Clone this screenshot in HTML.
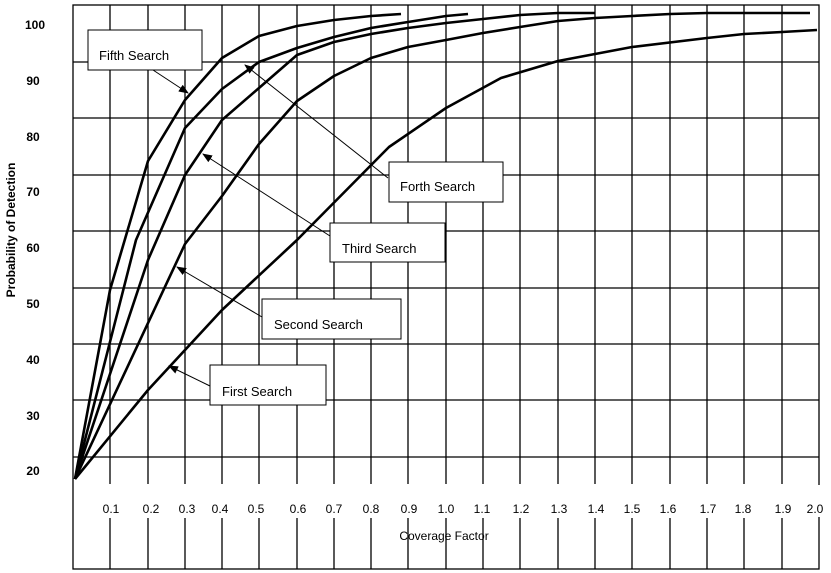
<!DOCTYPE html>
<html><head><style>
body{margin:0;background:#fff;}
svg{display:block;font-family:"Liberation Sans",sans-serif;}
</style></head><body>
<svg width="831" height="573" xmlns="http://www.w3.org/2000/svg">
<defs><marker id="a" markerWidth="10" markerHeight="8" refX="9" refY="4" orient="auto" markerUnits="userSpaceOnUse"><path d="M0,0 L10,4 L0,8 z" fill="#000"/></marker></defs>
<g stroke="#000" stroke-width="1.3" fill="none">
<rect x="73" y="5" width="746" height="564"/>
<line x1="73" y1="62" x2="819" y2="62"/><line x1="73" y1="118" x2="819" y2="118"/>
<line x1="73" y1="175" x2="819" y2="175"/><line x1="73" y1="231" x2="819" y2="231"/>
<line x1="73" y1="288" x2="819" y2="288"/><line x1="73" y1="344" x2="819" y2="344"/>
<line x1="73" y1="400" x2="819" y2="400"/><line x1="73" y1="457" x2="819" y2="457"/>
</g>
<g stroke="#000" stroke-width="1.3" id="v">
<path d="M110 5V484M148 5V484M185 5V484M222 5V484M259 5V484M297 5V484M334 5V484M371 5V484M408 5V484M446 5V484M483 5V484M520 5V484M558 5V484M595 5V484M632 5V484M670 5V484M707 5V484M744 5V484M782 5V484
M110 518V569M148 518V569M185 518V569M222 518V569M259 518V569M297 518V569M334 518V569M371 518V569M408 518V569M446 518V569M483 518V569M520 518V569M558 518V569M595 518V569M632 518V569M670 518V569M707 518V569M744 518V569M782 518V569"/>
</g>
<g stroke="#fff" stroke-width="3"><line x1="819" y1="485" x2="819" y2="517"/></g>
<g stroke="#000" stroke-width="2.6" fill="none" stroke-linejoin="round">
<polyline points="75,479 110,290 148,161 185,100 222,58 259,36 297,26 334,20 371,16 401,14"/>
<polyline points="75,479 136,240 185,128 222,89 259,62 297,48 334,37 371,28 408,22 446,16 468,14"/>
<polyline points="75,479 148,260 185,175 222,120 259,88 297,55 334,42 371,34 408,28 446,23 483,19 520,15 558,13 595,13"/>
<polyline points="75,479 185,244 222,196 259,144 297,101 334,76 371,58 408,47 446,40 483,33 520,27 558,21 595,18 632,16 670,14 707,13 810,13"/>
<polyline points="75,479 148,390 222,310 297,240 389,147 446,108 501,78 558,61 632,47 707,38 744,34 782,32 817,30"/>
</g>
<g stroke="#000" stroke-width="1" fill="#fff">
<rect x="88" y="30" width="114" height="40"/>
<rect x="389" y="162" width="114" height="40"/>
<rect x="330" y="223" width="115" height="39"/>
<rect x="262" y="299" width="139" height="40"/>
<rect x="210" y="365" width="116" height="40"/>
</g>
<g stroke="#000" stroke-width="1" marker-end="url(#a)">
<line x1="153" y1="70" x2="188" y2="93"/>
<line x1="388" y1="178" x2="245" y2="65"/>
<line x1="330" y1="236" x2="203" y2="154"/>
<line x1="262" y1="317" x2="177" y2="267"/>
<line x1="210" y1="386" x2="169" y2="366"/>
</g>
<g font-size="13" fill="#000">
<text x="99" y="60">Fifth Search</text>
<text x="400" y="191">Forth Search</text>
<text x="342" y="253">Third Search</text>
<text x="274" y="329">Second Search</text>
<text x="222" y="396">First Search</text>
<text x="444" y="540" text-anchor="middle" font-size="12">Coverage Factor</text>
</g>
<g font-size="12" font-weight="bold" text-anchor="middle">
<text x="35" y="29">100</text><text x="33" y="85">90</text><text x="33" y="141">80</text>
<text x="33" y="196">70</text><text x="33" y="252">60</text><text x="33" y="308">50</text>
<text x="33" y="364">40</text><text x="33" y="420">30</text><text x="33" y="475">20</text>
<text transform="translate(15,230) rotate(-90)" font-size="12">Probability of Detection</text>
</g>
<g font-size="12" text-anchor="middle">
<text x="111" y="513">0.1</text><text x="151" y="513">0.2</text><text x="187" y="513">0.3</text>
<text x="220" y="513">0.4</text><text x="256" y="513">0.5</text><text x="298" y="513">0.6</text>
<text x="334" y="513">0.7</text><text x="371" y="513">0.8</text><text x="409" y="513">0.9</text>
<text x="446" y="513">1.0</text><text x="482" y="513">1.1</text><text x="521" y="513">1.2</text>
<text x="559" y="513">1.3</text><text x="596" y="513">1.4</text><text x="632" y="513">1.5</text>
<text x="668" y="513">1.6</text><text x="708" y="513">1.7</text><text x="743" y="513">1.8</text>
<text x="783" y="513">1.9</text><text x="815" y="513">2.0</text>
</g>
</svg>
</body></html>
